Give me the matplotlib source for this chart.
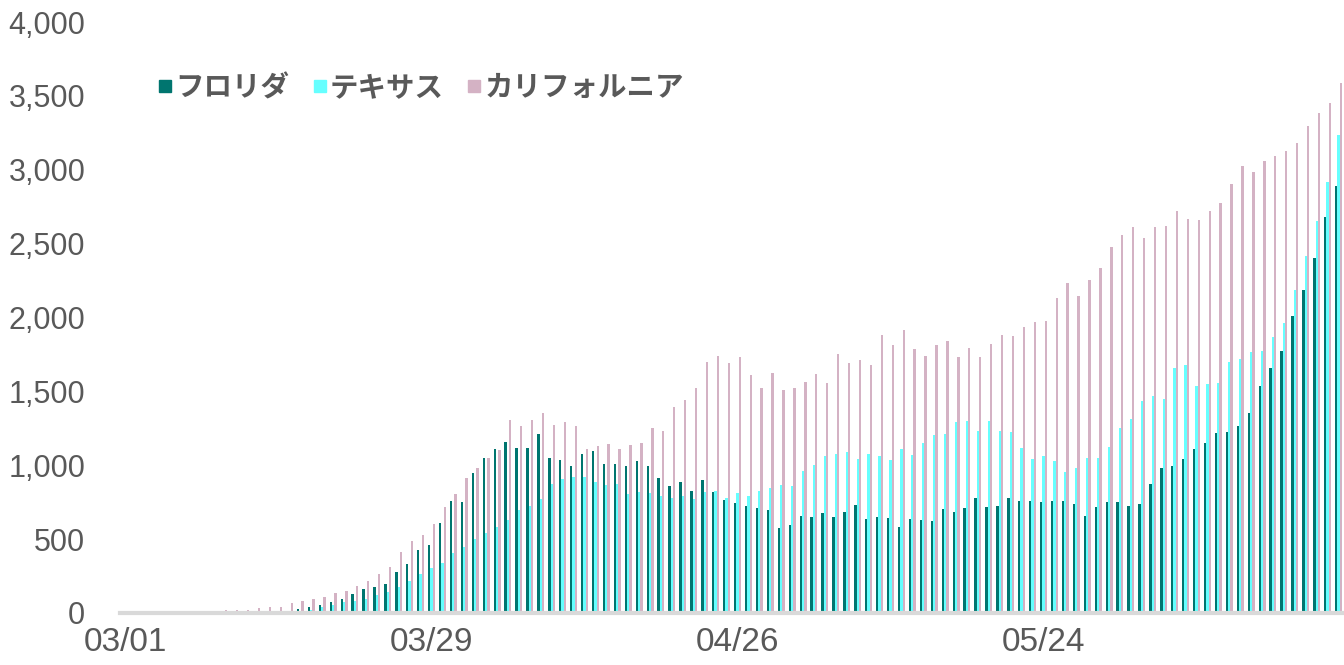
import matplotlib
matplotlib.use("Agg")
import matplotlib.pyplot as plt
from matplotlib import font_manager
from matplotlib.lines import Line2D
import numpy as np
import pandas as pd

# 日次の新規感染者数（7日平均）: 03/01 - 06/20
dates = pd.date_range("2020-03-01", periods=112, freq="D")

florida = [0, 0, 0, 0, 0, 0, 0, 0, 0, 0, 0, 0, 0, 3, 10, 12, 25, 40, 54, 74,
           97, 129, 160, 174, 196, 275, 332, 426, 460, 607, 760, 751, 950, 1049, 1110, 1155, 1119, 1115, 1211, 1049,
           1035, 993, 1076, 1096, 1011, 1006, 995, 1031, 997, 914, 860, 889, 826, 898, 821, 763, 744, 724, 711, 697,
           575, 598, 659, 647, 679, 652, 684, 731, 636, 647, 643, 582, 636, 627, 623, 704, 686, 713, 778, 717,
           722, 778, 758, 758, 751, 756, 758, 736, 656, 717, 753, 753, 722, 736, 873, 982, 996, 1044, 1108, 1148,
           1220, 1226, 1265, 1352, 1538, 1656, 1773, 2012, 2188, 2404, 2677, 2891]

texas = [0, 0, 0, 0, 0, 0, 0, 0, 0, 0, 0, 0, 3, 4, 5, 7, 9, 20, 38, 56,
         77, 81, 95, 120, 144, 178, 214, 266, 307, 338, 406, 445, 501, 541, 584, 629, 697, 726, 772, 873,
         907, 920, 920, 887, 866, 873, 808, 819, 810, 794, 780, 794, 772, 819, 826, 776, 812, 794, 824, 846,
         866, 862, 963, 1002, 1063, 1076, 1092, 1040, 1076, 1065, 1036, 1108, 1072, 1153, 1205, 1209, 1290, 1302, 1232, 1297,
         1234, 1223, 1115, 1042, 1063, 1029, 952, 979, 1047, 1047, 1123, 1252, 1310, 1436, 1471, 1448, 1656, 1680, 1535, 1547,
         1554, 1697, 1722, 1766, 1773, 1867, 1960, 2188, 2413, 2653, 2919, 3234]

california = [0, 0, 0, 1, 2, 2, 4, 9, 11, 17, 21, 21, 33, 43, 42, 66, 78, 93, 110, 137,
              147, 180, 219, 262, 309, 413, 487, 526, 600, 720, 808, 914, 979, 1049, 1103, 1308, 1266, 1304, 1354, 1272,
              1295, 1263, 1108, 1128, 1142, 1110, 1135, 1151, 1252, 1232, 1392, 1442, 1521, 1697, 1739, 1694, 1730, 1611, 1525, 1627,
              1509, 1523, 1566, 1618, 1557, 1753, 1692, 1712, 1676, 1884, 1812, 1915, 1785, 1739, 1814, 1841, 1735, 1794, 1730, 1821,
              1882, 1877, 1934, 1970, 1976, 2132, 2231, 2148, 2254, 2335, 2475, 2558, 2615, 2541, 2610, 2620, 2724, 2667, 2662, 2722,
              2772, 2905, 3026, 2985, 3056, 3092, 3125, 3182, 3294, 3382, 3453, 3588]

labels = ["フロリダ", "テキサス", "カリフォルニア"]
colors = ["#00756F", "#66FFFF", "#D4B2C4"]
tick_labels = ["03/01", "03/29", "04/26", "05/24"]
yticks = np.arange(0, 4001, 500)

# 数字用のフォント（細め）
names = {f.name for f in font_manager.fontManager.ttflist}
num_font = "Liberation Sans Narrow" if "Liberation Sans Narrow" in names else "Liberation Sans"
jp_font = ["Noto Sans CJK JP", "DejaVu Sans"]
grey = "#595959"

fig = plt.figure(figsize=(13.44, 6.65), dpi=100)
ax = fig.add_axes([120 / 1344, 1 - 613 / 665, 1 - 120 / 1344, (613 - 22) / 665])

x = np.arange(len(dates))
w = 0.215
for i, (vals, lab, col) in enumerate(zip([florida, texas, california], labels, colors)):
    ax.bar(x + (i - 1) * w, vals, width=w, color=col, label=lab, linewidth=0)

ax.set_xlim(-0.5, len(dates) - 0.5)
ax.set_ylim(0, 4000)

tick_pos = [list(dates.strftime("%m/%d")).index(t) for t in tick_labels]
ax.set_xticks(tick_pos)
ax.set_xticklabels(tick_labels, fontfamily=num_font, fontsize=24, color=grey)
ax.set_yticks(yticks)
ax.set_yticklabels([f"{v:,}" for v in yticks], fontfamily=num_font, fontsize=22, color=grey)
ax.tick_params(axis="both", length=0)
ax.tick_params(axis="y", pad=25)
ax.tick_params(axis="x", pad=10)

for s in ["top", "right", "left"]:
    ax.spines[s].set_visible(False)
ax.spines["bottom"].set_color("#D9D9D9")
ax.spines["bottom"].set_linewidth(3)

# 凡例（正方形マーカー）
handles = [Line2D([], [], marker="s", linestyle="none", markersize=9, color=c, label=l)
           for c, l in zip(colors, labels)]
leg = ax.legend(handles=handles, loc="upper left", bbox_to_anchor=(0.011, 0.955), ncol=3, frameon=False,
                prop={"family": jp_font, "size": 20.5, "weight": "bold"},
                handlelength=0.45, handletextpad=0.12, columnspacing=0.85)
for t in leg.get_texts():
    t.set_color(grey)

fig.savefig("out.png", dpi=100)
